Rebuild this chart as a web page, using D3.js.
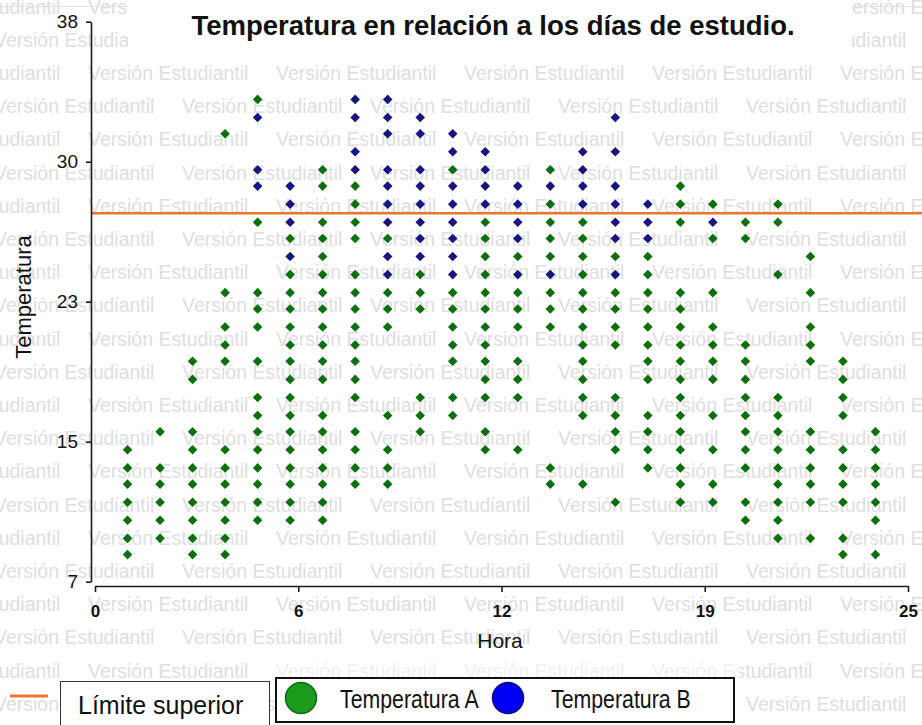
<!DOCTYPE html>
<html>
<head>
<meta charset="utf-8">
<script src="https://cdn.jsdelivr.net/npm/d3@7"></script>
<style>
  body { margin: 0; background: #fff; }
  svg { display: block; font-family: "Liberation Sans", Arial, sans-serif; }
</style>
</head>
<body>
<div id="chart"></div>
<script>
// horas del estudio (eje x)
const horas = [1, 2, 3, 4, 5, 6, 7, 8, 9, 10, 11, 12, 13, 14, 15, 16, 17, 18, 19, 20, 21, 22, 23, 24];

// Temperatura A, lecturas por hora
const tempA = [
  [14.3, 13.3, 12.4, 11.4, 10.4, 9.4, 8.5],
  [15.3, 13.3, 12.4, 11.4, 10.4, 9.4],
  [19.2, 18.2, 15.3, 14.3, 13.3, 12.4, 11.4, 10.4, 9.4, 8.5],
  [31.8, 23.0, 21.1, 20.1, 19.2, 14.3, 13.3, 12.4, 11.4, 10.4, 9.4, 8.5],
  [33.7, 26.9, 23.0, 22.1, 21.1, 19.2, 17.2, 16.2, 15.3, 14.3, 13.3, 12.4, 11.4, 10.4],
  [26.0, 24.0, 23.0, 22.1, 21.1, 20.1, 19.2, 18.2, 17.2, 16.2, 15.3, 14.3, 13.3, 12.4, 11.4, 10.4],
  [29.8, 28.9, 26.9, 26.0, 25.0, 24.0, 23.0, 22.1, 21.1, 20.1, 19.2, 18.2, 16.2, 15.3, 14.3, 13.3, 12.4, 11.4, 10.4],
  [28.9, 27.9, 26.9, 26.0, 24.0, 23.0, 22.1, 21.1, 20.1, 19.2, 18.2, 17.2, 15.3, 14.3, 13.3, 12.4],
  [26.0, 23.0, 22.1, 21.1, 16.2, 14.3, 13.3, 12.4],
  [24.0, 23.0, 22.1, 17.2, 16.2, 15.3],
  [29.8, 23.0, 22.1, 21.1, 20.1, 19.2, 17.2, 16.2],
  [26.9, 26.0, 25.0, 24.0, 23.0, 22.1, 21.1, 20.1, 19.2, 18.2, 17.2, 15.3, 14.3],
  [25.0, 23.0, 22.1, 21.1, 19.2, 18.2, 17.2, 14.3],
  [29.8, 27.9, 26.9, 26.0, 25.0, 23.0, 22.1, 21.1, 13.3, 12.4],
  [26.9, 26.0, 25.0, 24.0, 23.0, 22.1, 21.1, 20.1, 19.2, 18.2, 17.2, 16.2, 12.4],
  [25.0, 23.0, 22.1, 21.1, 20.1, 17.2, 16.2, 15.3, 14.3, 11.4],
  [25.0, 24.0, 23.0, 22.1, 21.1, 20.1, 19.2, 18.2, 16.2, 15.3, 14.3, 13.3],
  [28.9, 27.9, 26.9, 23.0, 22.1, 21.1, 20.1, 19.2, 18.2, 17.2, 16.2, 15.3, 14.3, 13.3, 12.4, 11.4],
  [27.9, 26.0, 23.0, 21.1, 20.1, 19.2, 18.2, 16.2, 14.3, 12.4, 11.4],
  [26.9, 26.0, 20.1, 19.2, 18.2, 17.2, 16.2, 15.3, 14.3, 13.3, 11.4, 10.4],
  [27.9, 26.9, 24.0, 17.2, 16.2, 15.3, 14.3, 13.3, 12.4, 11.4, 10.4, 9.4],
  [25.0, 23.0, 21.1, 20.1, 19.2, 15.3, 14.3, 13.3, 12.4, 11.4, 9.4],
  [19.2, 18.2, 17.2, 16.2, 14.3, 13.3, 12.4, 11.4, 9.4, 8.5],
  [15.3, 14.3, 13.3, 12.4, 11.4, 10.4, 8.5]
];

// Temperatura B, lecturas por hora
const tempB = [
  [], [], [], [],
  [32.7, 29.8, 28.9],
  [28.9, 27.9, 26.9, 25.0],
  [],
  [33.7, 32.7, 30.8, 29.8],
  [33.7, 32.7, 31.8, 29.8, 28.9, 27.9, 26.9, 25.0, 24.0],
  [32.7, 31.8, 29.8, 28.9, 27.9, 26.9, 26.0, 25.0],
  [31.8, 30.8, 28.9, 27.9, 26.9, 26.0, 25.0, 24.0],
  [30.8, 29.8, 28.9, 27.9],
  [28.9, 27.9, 26.9, 26.0, 24.0],
  [28.9, 24.0],
  [30.8, 29.8, 28.9, 27.9],
  [32.7, 30.8, 28.9, 27.9, 26.9, 26.0, 24.0],
  [27.9, 26.9, 26.0],
  [],
  [26.9],
  [], [], [], [], []
];

const limiteSuperior = 27.4;

const xTickLabels = ["0", "6", "12", "19", "25"];
const yTickLabels = ["7", "15", "23", "30", "38"];

const width = 922, height = 725;

const svg = d3.select("#chart").append("svg")
  .attr("width", width)
  .attr("height", height);

const x = d3.scaleLinear().domain([0, 25]).range([95, 908]);
const y = d3.scaleLinear().domain([7, 38]).range([581.7, 21.7]);

// marca de agua
let wm = svg.append("g")
  .attr("fill", "#dedede")
  .attr("font-size", "19.5px");
for (let k = -2; k <= 19; k++) {
  let start = (k % 2 === 0) ? 88 : -6;
  for (let j = -1; j <= 5; j++) {
    wm.append("text")
      .attr("x", start + j * 188)
      .attr("y", 80 + k * 33.2)
      .text("Versión Estudiantil");
  }
}

// linea fina superior
svg.append("line")
  .attr("x1", 0).attr("x2", width)
  .attr("y1", 6.5).attr("y2", 6.5)
  .attr("stroke", "#e2e2e2");

// fondo del titulo
svg.append("rect")
  .attr("x", 128).attr("y", 0)
  .attr("width", 724).attr("height", 55)
  .attr("fill", "#fff");

svg.append("text")
  .attr("x", 493)
  .attr("y", 35)
  .attr("text-anchor", "middle")
  .attr("font-size", "27.5px")
  .attr("font-weight", "bold")
  .attr("fill", "#111")
  .text("Temperatura en relación a los días de estudio.");

// limite superior
svg.append("line")
  .attr("x1", 91).attr("x2", width)
  .attr("y1", y(limiteSuperior)).attr("y2", y(limiteSuperior))
  .attr("stroke", "#e8772e")
  .attr("stroke-width", 2.5);

// puntos
let puntos = [];
horas.forEach((h, i) => {
  tempA[i].forEach(t => puntos.push({ hora: h, temp: t, serie: "A" }));
  tempB[i].forEach(t => puntos.push({ hora: h, temp: t, serie: "B" }));
});

const color = { A: "#0b700b", B: "#16167e" };
const diamond = d3.symbol().type(d3.symbolSquare).size(46);

svg.append("g").selectAll("path")
  .data(puntos)
  .join("path")
  .attr("d", diamond)
  .attr("transform", d => `translate(${x(d.hora)},${y(d.temp)}) rotate(45)`)
  .attr("fill", d => color[d.serie]);

// ejes
const xTicks = xTickLabels.map((_, i) => i * 25 / (xTickLabels.length - 1));
const yTicks = yTickLabels.map((_, i) => 7 + i * 31 / (yTickLabels.length - 1));

const xAxis = d3.axisBottom(x)
  .tickValues(xTicks)
  .tickFormat((d, i) => xTickLabels[i])
  .tickSize(6)
  .tickSizeOuter(0)
  .tickPadding(13);

const yAxis = d3.axisLeft(y)
  .tickValues(yTicks)
  .tickFormat((d, i) => yTickLabels[i])
  .tickSize(5)
  .tickSizeOuter(0)
  .tickPadding(8);

let gx = svg.append("g")
  .attr("transform", "translate(0,586)")
  .call(xAxis);
gx.selectAll("text")
  .attr("font-size", "17px")
  .attr("font-weight", "bold")
  .attr("fill", "#111");

let gy = svg.append("g")
  .attr("transform", "translate(91,0)")
  .call(yAxis);
gy.selectAll("text")
  .attr("font-size", "19px")
  .attr("fill", "#111");

svg.selectAll(".domain, .tick line")
  .attr("stroke", "#1a1a1a")
  .attr("stroke-width", 1.6);

// titulos de ejes
svg.append("text")
  .attr("x", 500)
  .attr("y", 648)
  .attr("text-anchor", "middle")
  .attr("font-size", "21px")
  .attr("fill", "#111")
  .text("Hora");

svg.append("text")
  .attr("transform", "translate(31,297) rotate(-90)")
  .attr("text-anchor", "middle")
  .attr("font-size", "22px")
  .attr("fill", "#111")
  .text("Temperatura");

// leyenda
svg.append("rect")
  .attr("x", 268).attr("y", 652)
  .attr("width", 472).attr("height", 26)
  .attr("fill", "#fff")
  .attr("opacity", 0.55);

svg.append("line")
  .attr("x1", 10).attr("x2", 48)
  .attr("y1", 696).attr("y2", 696)
  .attr("stroke", "#e8772e")
  .attr("stroke-width", 3);

svg.append("rect")
  .attr("x", 60.5).attr("y", 681.5)
  .attr("width", 209).attr("height", 60)
  .attr("fill", "#fff")
  .attr("stroke", "#333");

svg.append("text")
  .attr("x", 78).attr("y", 714)
  .attr("font-size", "25px")
  .attr("fill", "#111")
  .text("Límite superior");

svg.append("rect")
  .attr("x", 276).attr("y", 678)
  .attr("width", 458).attr("height", 44)
  .attr("fill", "#fff")
  .attr("stroke", "#111")
  .attr("stroke-width", 2);

const leyenda = [
  { serie: "A", nombre: "Temperatura A", cx: 301, tx: 340, fill: "#1b9a1b", stroke: "#0d6a0d" },
  { serie: "B", nombre: "Temperatura B", cx: 508, tx: 551, fill: "#0000f2", stroke: "#10107a" }
];

leyenda.forEach(l => {
  svg.append("circle")
    .attr("cx", l.cx).attr("cy", 698)
    .attr("r", 15.5)
    .attr("fill", l.fill)
    .attr("stroke", l.stroke)
    .attr("stroke-width", 1.5);
  svg.append("text")
    .attr("transform", `translate(${l.tx},708) scale(0.82,1)`)
    .attr("font-size", "26px")
    .attr("fill", "#111")
    .text(l.nombre);
});
</script>
</body>
</html>
